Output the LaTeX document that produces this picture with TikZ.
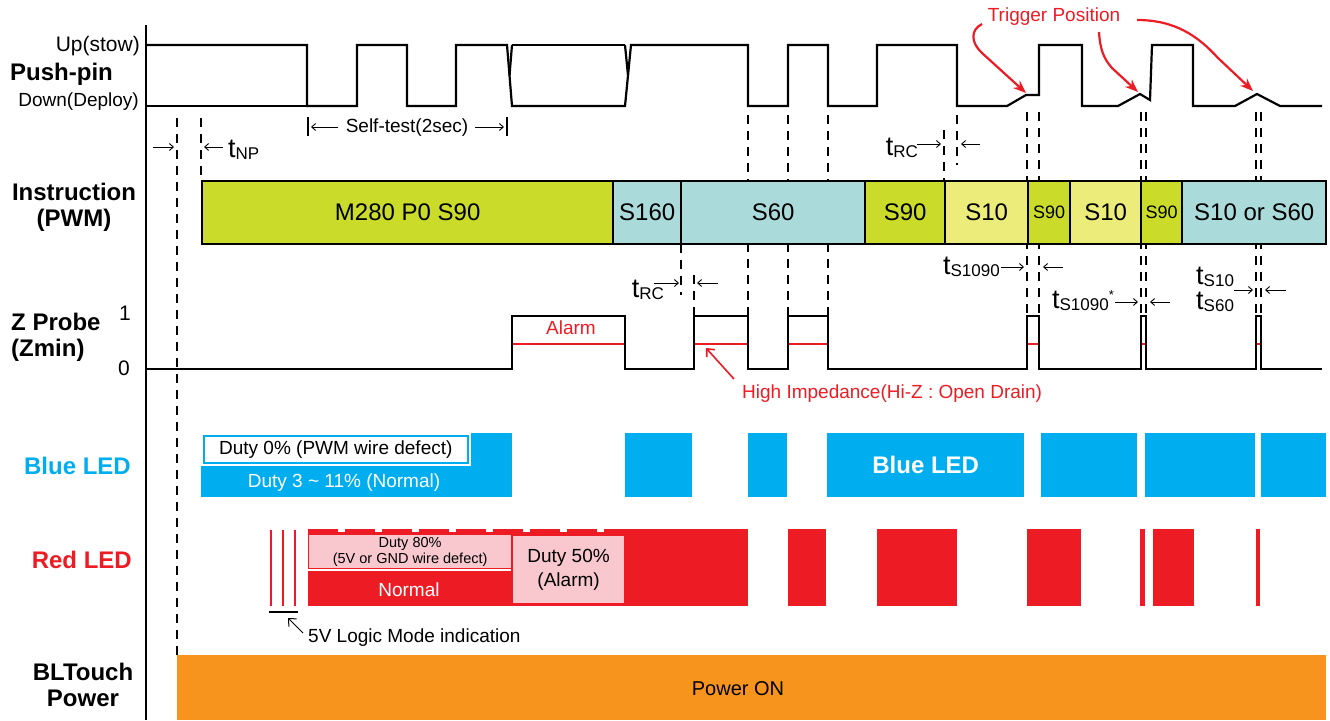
\documentclass[tikz,border=0pt]{standalone}
\usepackage{fontspec}
\setmainfont{Liberation Sans}
\usetikzlibrary{arrows.meta}
\definecolor{pwmgreen}{RGB}{202,219,42}
\definecolor{pwmcyan}{RGB}{170,219,218}
\definecolor{pwmyellow}{RGB}{236,236,122}
\definecolor{ledblue}{RGB}{0,174,239}
\definecolor{ledred}{RGB}{237,28,36}
\definecolor{ledpink}{RGB}{248,200,206}
\definecolor{pwrorange}{RGB}{247,148,30}
\tikzset{
rowlabel/.style={font=\bfseries\fontsize{24}{26}\selectfont, inner sep=0pt, align=center},
plaintext/.style={font=\fontsize{19}{22}\selectfont, inner sep=0pt, align=center},
signal/.style={draw=black, line width=2.2pt, line join=miter},
guide/.style={draw=black, line width=1.8pt, dash pattern=on 9pt off 7pt},
hizline/.style={draw=ledred, line width=2.2pt},
cmdbox/.style={draw=black, line width=2.4pt, inner sep=0pt, minimum height=63pt, anchor=west, font=\fontsize{24}{24}\selectfont},
bluebar/.style={fill=ledblue, inner sep=0pt, minimum height=64pt, anchor=north west},
redbar/.style={fill=ledred, inner sep=0pt, minimum height=77pt, anchor=north west},
pinkbox/.style={fill=ledpink, draw=ledred, line width=1.2pt, inner sep=0pt, anchor=north west, align=center},
tlabel/.style={inner sep=0pt},
tmark/.style={draw=black, line width=0.9pt, -{Straight Barb[length=4pt,width=7pt]}},
trigarrow/.style={draw=ledred, line width=2.2pt, -{Stealth[length=13pt,width=10pt]}},
notearrow/.style={line width=1.6pt, -{Straight Barb[length=6pt,width=11pt]}},
}
\newcommand{\tsub}[1]{{\fontsize{27}{27}\selectfont t}\raisebox{-2pt}{\fontsize{17}{17}\selectfont #1}}

\begin{document}
\begin{tikzpicture}[x=1pt,y=-1pt]
\useasboundingbox (0,0) rectangle (1330,720);

\draw[guide] (177,118) -- (177,655);
\draw[guide] (201,118) -- (201,181);
\draw[guide] (681,244) -- (681,295);
\draw[guide] (694,275) -- (694,316);
\foreach \x in {748,788,828} \draw[guide] (\x,115) -- (\x,316);
\draw[guide] (944,130) -- (944,181);
\draw[guide] (957,115) -- (957,165);
\foreach \x in {1027,1039,1141,1146,1256,1261} \draw[guide] (\x,112) -- (\x,316);

\draw[black, line width=2pt] (146,25) -- (146,720);

\node[rowlabel, anchor=west] at (10,74) (pushpin) {Push-pin};
\node[plaintext, anchor=east, font=\fontsize{21}{22}\selectfont] at (140,46) (upstow) {Up(stow)};
\node[plaintext, anchor=east] at (139,102) (downdeploy) {Down(Deploy)};
\node[rowlabel] at (74,207) (instruction) {Instruction\\(PWM)};
\node[rowlabel, anchor=west, align=left] at (11,337) (zprobe) {Z Probe\\(Zmin)};
\node[plaintext, font=\fontsize{21}{22}\selectfont] at (125,313) (levelone) {1};
\node[plaintext, font=\fontsize{21}{22}\selectfont] at (124,368) (levelzero) {0};
\node[rowlabel, anchor=east, text=ledblue] at (131,466) (bluelabel) {Blue LED};
\node[rowlabel, anchor=east, text=ledred] at (132,560) (redlabel) {Red LED};
\node[rowlabel] at (83,685) (power) {BLTouch\\Power};

\draw[signal] (146,106) -- (307,106);
\draw[signal] (146,45) -- (307,45) -- (307,106) -- (357,106) -- (357,45) -- (407,45) -- (407,106) -- (456,106) -- (456,45) -- (507,45) -- (512,106) -- (625,106) -- (631,45) -- (748,45) -- (748,106) -- (788,106) -- (788,45) -- (828,45) -- (828,106) -- (877,106) -- (877,45) -- (957,45) -- (957,106) -- (1007,106) -- (1026,95) -- (1039,95) -- (1039,45) -- (1082,45) -- (1082,106) -- (1118,106) -- (1140,94) -- (1150,100) -- (1152,45) -- (1193,45) -- (1193,106) -- (1235,106) -- (1257,94) -- (1280,106) -- (1322,106);
\draw[signal] (512,45) -- (625,45);
\draw[signal] (512,45) -- (509.5,75.5);
\draw[signal] (625,45) -- (628,75.5);

\node[font=\fontsize{19}{19}\selectfont, text=ledred, inner sep=0pt] at (1054,17) (trigpos) {Trigger Position};
\coordinate (trigone) at (1026,93);
\coordinate (trigtwo) at (1138,92);
\coordinate (trigthree) at (1253,91);
\draw[trigarrow] (982,24) .. controls (970,30) and (971,43) .. (982,53) -- (trigone);
\draw[trigarrow] (1099,32) .. controls (1100,48) and (1103,58) .. (1112,68) -- (trigtwo);
\draw[trigarrow] (1137,20) .. controls (1175,20) and (1198,36) .. (1218,58) -- (trigthree);

\draw[tmark] (153,147) -- (174,147);
\draw[tmark] (223,147) -- (204,147);
\node[tlabel, anchor=base west] at (228,157) (tnp) {\tsub{NP}};

\draw[black, line width=1.8pt] (308,117) -- (308,136);
\draw[black, line width=1.8pt] (507,117) -- (507,136);
\node[plaintext] at (407,128) (selftest) {Self-test(2sec)};
\draw[tmark] (338,127) -- (311,127);
\draw[tmark] (475,127) -- (504,127);

\node[tlabel, anchor=base east] at (918,155) (trctwo) {\tsub{RC}};
\draw[tmark] (917,144) -- (941,144);
\draw[tmark] (980,144) -- (961,144);

\node[cmdbox, fill=pwmgreen, minimum width=411pt] at (201,212.5) (m280) {M280 P0 S90};
\node[cmdbox, fill=pwmcyan, minimum width=68pt] at (612,212.5) (sonesixty) {S160};
\node[cmdbox, fill=pwmcyan, minimum width=184pt] at (680,212.5) (ssixtya) {S60};
\node[cmdbox, fill=pwmgreen, minimum width=80pt] at (864,212.5) (sninetya) {S90};
\node[cmdbox, fill=pwmyellow, minimum width=83pt] at (944,212.5) (stena) {S10};
\node[cmdbox, fill=pwmgreen, minimum width=42pt, font=\fontsize{18}{18}\selectfont] at (1027,212.5) (sninetyb) {S90};
\node[cmdbox, fill=pwmyellow, minimum width=71pt] at (1069,212.5) (stenb) {S10};
\node[cmdbox, fill=pwmgreen, minimum width=41pt, font=\fontsize{18}{18}\selectfont] at (1140,212.5) (sninetyc) {S90};
\node[cmdbox, fill=pwmcyan, minimum width=144pt] at (1181,212.5) (stenorsixty) {S10 or S60};

\node[tlabel, anchor=base east] at (664,297) (trcone) {\tsub{RC}};
\draw[tmark] (654,283) -- (679,283);
\draw[tmark] (718,283) -- (697,283);
\node[tlabel, anchor=base east] at (1000,274) (tsa) {\tsub{S1090}};
\draw[tmark] (1001,267) -- (1024,267);
\draw[tmark] (1063,267) -- (1043,267);
\node[tlabel, anchor=base east] at (1114,308) (tsb) {\tsub{S1090}\raisebox{9pt}{\fontsize{13}{13}\selectfont *}};
\draw[tmark] (1115,302) -- (1138,302);
\draw[tmark] (1170,302) -- (1150,302);
\node[tlabel, align=left, font=\fontsize{27}{25}\selectfont, anchor=base west] at (1196,309) (tstensixty) {\tsub{S10}\\\tsub{S60}};
\draw[tmark] (1234,290) -- (1253,290);
\draw[tmark] (1286,290) -- (1265,290);

\draw[hizline] (512,344) -- (625,344);
\draw[hizline] (694,344) -- (748,344);
\draw[hizline] (788,344) -- (828,344);
\draw[hizline] (1027,344) -- (1039,344);
\draw[hizline] (1141,344) -- (1146,344);
\draw[hizline] (1256,344) -- (1261,344);
\draw[signal] (146,369) -- (512,369) -- (512,316) -- (625,316) -- (625,369) -- (694,369) -- (694,316) -- (748,316) -- (748,369) -- (788,369) -- (788,316) -- (828,316) -- (828,369) -- (1027,369) -- (1027,316) -- (1039,316) -- (1039,369) -- (1141,369) -- (1141,316) -- (1146,316) -- (1146,369) -- (1256,369) -- (1256,316) -- (1261,316) -- (1261,369) -- (1322,369);
\node[plaintext, text=ledred] at (571,328) (alarm) {Alarm};
\node[plaintext, text=ledred, anchor=west] at (742,394) (hiz) {High Impedance(Hi-Z : Open Drain)};
\coordinate (hiztip) at (706,348);
\draw[notearrow, ledred] (734,379) -- (hiztip);

\node[bluebar, minimum width=311pt] at (201,433) (bluefirst) {};
\fill[white] (201,433) rectangle (471,466);
\node[draw=ledblue, line width=1.6pt, fill=white, inner sep=0pt, minimum width=264pt, minimum height=27pt, anchor=north west, font=\fontsize{19}{22}\selectfont] at (203,435) (dutyzero) {Duty 0\% (PWM wire defect)};
\node[plaintext, text=white] at (344,483) (dutynormal) {Duty 3 \textasciitilde{} 11\% (Normal)};
\node[bluebar, minimum width=67pt] at (625,433) (blueb) {};
\node[bluebar, minimum width=39pt] at (748,433) (bluec) {};
\node[bluebar, minimum width=197pt, text=white, font=\bfseries\fontsize{24}{24}\selectfont] at (827,433) (blued) {Blue LED};
\node[bluebar, minimum width=96pt] at (1041,433) (bluee) {};
\node[bluebar, minimum width=110pt] at (1145,433) (bluef) {};
\node[bluebar, minimum width=65pt] at (1261,433) (blueg) {};

\foreach \x in {271,283,295} \draw[ledred, line width=2.4pt] (\x,530) -- (\x,606);
\draw[black, line width=2pt] (269,612) -- (298,612);
\coordinate (logictip) at (288,618);
\draw[notearrow, line width=1pt] (303,633) -- (logictip);
\node[plaintext, anchor=west] at (308,638) (logicmode) {5V Logic Mode indication};

\node[redbar, minimum width=440pt] at (308,529) (redfirst) {};
\foreach \x in {338,375,...,600} \fill[white] (\x,528) rectangle ++(7,4);
\node[pinkbox, minimum width=203pt, minimum height=34pt, font=\fontsize{14.5}{16}\selectfont] at (308,534) (dutyeighty) {Duty 80\%\\(5V or GND wire defect)};
\draw[white, line width=1.6pt] (308,570) -- (511,570);
\node[plaintext, text=white] at (409,590) (normal) {Normal};
\node[pinkbox, minimum width=112pt, minimum height=68pt, font=\fontsize{19}{24}\selectfont] at (512,535) (dutyfifty) {Duty 50\%\\(Alarm)};
\node[redbar, minimum width=38pt] at (788,529) (redb) {};
\node[redbar, minimum width=80pt] at (877,529) (redc) {};
\node[redbar, minimum width=54pt] at (1027,529) (redd) {};
\node[redbar, minimum width=5pt] at (1140,529) (rede) {};
\node[redbar, minimum width=41pt] at (1153,529) (redf) {};
\node[redbar, minimum width=4pt] at (1256,529) (redg) {};

\node[fill=pwrorange, inner sep=0pt, minimum width=1149pt, minimum height=65pt, anchor=north west] at (177,655) (powerbar) {};
\node[plaintext, font=\fontsize{20}{22}\selectfont] at (738,689) (poweron) {Power ON};
\end{tikzpicture}
\end{document}
